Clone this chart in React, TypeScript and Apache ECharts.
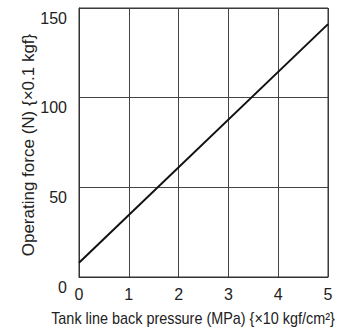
import React, { useEffect, useRef } from "react";
import * as echarts from "echarts";

const pressure = [0, 5];
const force = [8, 141];
const xTicks = [0, 1, 2, 3, 4, 5];
const yTicks = [0, 50, 100, 150];
const xName = "Tank line back pressure (MPa) {×10 kgf/cm²}";
const yName = "Operating force (N) {×0.1 kgf}";

const FONT = "'Liberation Sans', Arial, sans-serif";

export default function App() {
  const ref = useRef<HTMLDivElement>(null);
  useEffect(() => {
    const chart = echarts.init(ref.current!, null, { renderer: "svg" });
    chart.setOption({
      animation: false,
      backgroundColor: "#ffffff",
      textStyle: { fontFamily: FONT },
      grid: { left: 79, right: 14, top: 8, bottom: 52, containLabel: false },
      xAxis: {
        type: "value",
        min: 0,
        max: 5,
        interval: 1,
        axisLine: { show: true, lineStyle: { color: "#333", width: 1 } },
        axisTick: { show: false },
        splitLine: { show: true, lineStyle: { color: "#444", width: 1 } },
        axisLabel: { color: "#222", fontSize: 16, margin: 9, fontFamily: FONT },
      },
      yAxis: {
        type: "value",
        min: 0,
        max: 150,
        interval: 50,
        axisLine: { show: true, lineStyle: { color: "#333", width: 1 } },
        axisTick: { show: false },
        splitLine: { show: true, lineStyle: { color: "#444", width: 1 } },
        axisLabel: {
          color: "#222",
          fontSize: 16,
          margin: 12,
          verticalAlign: "top",
          padding: [2, 0, 0, 0],
          fontFamily: FONT,
        },
      },
      graphic: [
        {
          type: "rect",
          shape: { x: 79, y: 8, width: 249, height: 269 },
          style: { fill: "none", stroke: "#333", lineWidth: 1 },
          silent: true,
          z: 10,
        },
        {
          type: "text",
          x: 193,
          y: 318,
          scaleX: 0.9,
          style: {
            text: xName,
            fontSize: 16,
            fontFamily: FONT,
            fill: "#222",
            align: "center",
            verticalAlign: "middle",
          },
        },
        {
          type: "text",
          x: 28,
          y: 145,
          rotation: Math.PI / 2,
          style: {
            text: yName,
            fontSize: 17,
            fontFamily: FONT,
            fill: "#222",
            align: "center",
            verticalAlign: "middle",
          },
        },
      ],
      series: [
        {
          type: "line",
          data: pressure.map((p, i) => [p, force[i]]),
          symbol: "none",
          lineStyle: { color: "#111", width: 2 },
          z: 20,
        },
      ],
    });
    return () => chart.dispose();
  }, []);
  return <div ref={ref} style={{ width: 342, height: 329, position: "absolute", left: 0, top: 0 }} />;
}
